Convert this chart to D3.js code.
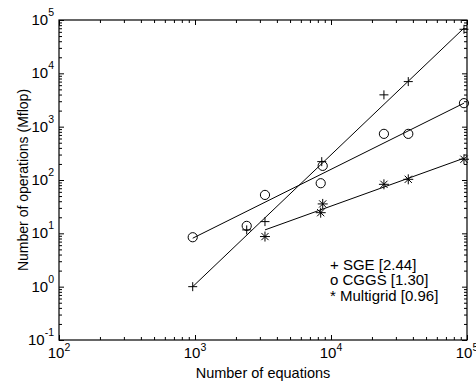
<!DOCTYPE html>
<html><head><meta charset="utf-8">
<script src="https://cdn.jsdelivr.net/npm/d3@7"></script>
<style>
body{margin:0;background:#fff}
svg{display:block}
text{font-family:"Liberation Sans",Arial,Helvetica,sans-serif;fill:#000}
</style></head>
<body><svg id="c" width="476" height="385"></svg>
<script>
// ---- data ----
const xExps = [2, 3, 4, 5];
const yExps = [-1, 0, 1, 2, 3, 4, 5];

const sgeX  = [962, 2400, 3270, 8550, 24500, 37000, 95000];
const sgeY  = [1.0, 11.6, 16.6, 221, 3950, 7000, 67000];
const cggsX = [962, 2400, 3270, 8690, 8400, 24500, 37000, 95000];
const cggsY = [8.45, 13.8, 52.5, 184, 87, 733, 733, 2760];
const mgX   = [3270, 8690, 8400, 24500, 37000, 95000];
const mgY   = [8.7, 35.6, 24.4, 83, 103, 245];

// fitted lines (end points)
const sgeFitX  = [962, 95000],  sgeFitY  = [1.0, 70500];
const cggsFitX = [962, 95000],  cggsFitY = [8.1, 2760];
const mgFitX   = [3270, 95000], mgFitY   = [11.6, 256];

const legendLabels = ["+ SGE [2.44]", "o CGGS [1.30]", "* Multigrid [0.96]"];
const xLabel = "Number of equations";
const yLabel = "Number of operations (Mflop)";

// ---- layout ----
const L = 59, T = 20, W = 408, H = 320;
const svg = d3.select("#c");
const x = d3.scaleLog().domain([1e2, 1e5]).range([L, L + W]);
const y = d3.scaleLog().domain([1e-1, 1e5]).range([T + H, T]);

const majorX = xExps.map(e => Math.pow(10, e));
const majorY = yExps.map(e => Math.pow(10, e));
const minorX = [], minorY = [];
xExps.slice(0, -1).forEach(e => { for (let k = 2; k <= 9; k++) minorX.push(k * Math.pow(10, e)); });
yExps.slice(0, -1).forEach(e => { for (let k = 2; k <= 9; k++) minorY.push(k * Math.pow(10, e)); });

function axis(gen, vals, size, tr) {
  const g = svg.append("g").attr("transform", tr)
    .call(gen.tickValues(vals).tickSize(size).tickFormat(""));
  g.select(".domain").remove();
  g.selectAll("line").attr("stroke", "#000").attr("stroke-width", 1);
  return g;
}
// inward ticks on all four sides
axis(d3.axisBottom(x), majorX, -5, `translate(0,${T + H})`);
axis(d3.axisBottom(x), minorX, -3, `translate(0,${T + H})`);
axis(d3.axisTop(x), majorX, -5, `translate(0,${T})`);
axis(d3.axisTop(x), minorX, -3, `translate(0,${T})`);
axis(d3.axisLeft(y), majorY, -5, `translate(${L},0)`);
axis(d3.axisLeft(y), minorY, -3, `translate(${L},0)`);
axis(d3.axisRight(y), majorY, -5, `translate(${L + W},0)`);
axis(d3.axisRight(y), minorY, -3, `translate(${L + W},0)`);

svg.append("rect").attr("x", L).attr("y", T).attr("width", W).attr("height", H)
  .attr("fill", "none").attr("stroke", "#000").attr("stroke-width", 1.2);

// tick labels
xExps.forEach(e => {
  const t = svg.append("text").attr("x", x(Math.pow(10, e))).attr("y", T + H + 18)
    .attr("text-anchor", "middle").attr("font-size", 15);
  t.append("tspan").text("10");
  t.append("tspan").attr("dy", -7).attr("font-size", 10.5).text(e);
});
yExps.forEach(e => {
  const t = svg.append("text").attr("x", L - 5).attr("y", y(Math.pow(10, e)) + 5)
    .attr("text-anchor", "end").attr("font-size", 15);
  t.append("tspan").text("10");
  t.append("tspan").attr("dy", -9).attr("font-size", 10.5).text(e);
});

// axis labels
svg.append("text").attr("x", L + W / 2).attr("y", 377.5).attr("text-anchor", "middle")
  .attr("font-size", 14.5).text(xLabel);
svg.append("text").attr("transform", `translate(28,${T + H / 2}) rotate(-90)`)
  .attr("text-anchor", "middle").attr("font-size", 14).text(yLabel);

// fit lines
const line = d3.line().x(d => x(d[0])).y(d => y(d[1]));
[[sgeFitX, sgeFitY], [cggsFitX, cggsFitY], [mgFitX, mgFitY]].forEach(([xs, ys]) => {
  svg.append("path").datum(xs.map((v, i) => [v, ys[i]])).attr("d", line)
    .attr("fill", "none").attr("stroke", "#000").attr("stroke-width", 1);
});

// markers
const mk = svg.append("g").attr("stroke", "#000").attr("stroke-width", 1).attr("fill", "none");
sgeX.forEach((v, i) => {
  const cx = x(v), cy = y(sgeY[i]), s = 4.5;
  mk.append("path").attr("d", `M${cx - s},${cy}H${cx + s}M${cx},${cy - s}V${cy + s}`);
});
cggsX.forEach((v, i) => {
  mk.append("circle").attr("cx", x(v)).attr("cy", y(cggsY[i])).attr("r", 4.6);
});
mgX.forEach((v, i) => {
  const cx = x(v), cy = y(mgY[i]), s = 5, d = 3.6;
  mk.append("path").attr("d",
    `M${cx - s},${cy}H${cx + s}M${cx},${cy - s}V${cy + s}` +
    `M${cx - d},${cy - d}L${cx + d},${cy + d}M${cx - d},${cy + d}L${cx + d},${cy - d}`);
});

// legend text
legendLabels.forEach((s, i) => {
  svg.append("text").attr("x", 330).attr("y", 270 + i * 15.3).attr("font-size", 15).text(s);
});
</script></body></html>
